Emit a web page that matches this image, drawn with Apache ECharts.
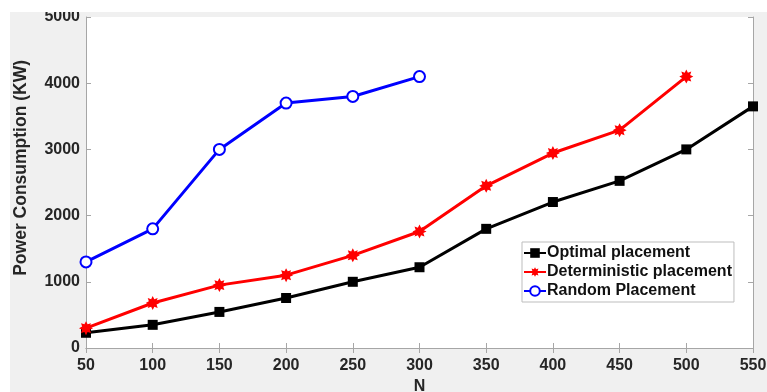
<!DOCTYPE html>
<html>
<head>
<meta charset="utf-8">
<script src="https://cdn.jsdelivr.net/npm/echarts@6/dist/echarts.min.js"></script>
<style>
  html, body { margin: 0; padding: 0; background: #fff; }
  #wrap { position: absolute; left: 10px; top: 12px; width: 757px; height: 380px; background: #f0f0f0; }
  #chart { width: 757px; height: 380px; }
</style>
</head>
<body>
<div id="wrap"><div id="chart"></div></div>
<script>
var nValues = [50, 100, 150, 200, 250, 300, 350, 400, 450, 500, 550];
var optimal = [230, 350, 545, 755, 1000, 1220, 1800, 2205, 2525, 3000, 3650];
var deterministic = [300, 680, 950, 1100, 1400, 1760, 2450, 2945, 3290, 4100];
var randomPl = [1300, 1800, 3000, 3700, 3800, 4100];
var seriesNames = ['Optimal placement', 'Deterministic placement', 'Random Placement'];
var yTitle = 'Power Consumption (KW)';

function pairs(vals) {
  return vals.map(function (v, i) { return [nValues[i], v]; });
}

// 8-point star used for the red markers
var starPath = 'path://M0,-10 L2.3,-5.5 L7.1,-7.1 L5.5,-2.3 L10,0 L5.5,2.3 L7.1,7.1 L2.3,5.5 L0,10 L-2.3,5.5 L-7.1,7.1 L-5.5,2.3 L-10,0 L-5.5,-2.3 L-7.1,-7.1 L-2.3,-5.5 Z';

var chart = echarts.init(document.getElementById('chart'));
var fontFam = 'Liberation Sans, Arial';
var labelFont = { fontFamily: fontFam, fontWeight: 'bold', fontSize: 16, color: '#262626' };
var axisCol = '#a6a6a6';

var option = {
  animation: false,
  grid: {
    left: 76, right: 14, top: 5, bottom: 44,
    outerBoundsMode: 'none',
    show: true, backgroundColor: '#fff', borderWidth: 0
  },
  graphic: [{
    type: 'text', left: 2, top: 48, rotation: Math.PI / 2,
    style: { text: yTitle, fontFamily: fontFam, fontWeight: 'bold', fontSize: 17.5, fill: '#262626' }
  }],
  legend: {
    left: 512, top: 230,
    orient: 'vertical',
    backgroundColor: '#fff',
    borderColor: '#bdbdbd',
    borderWidth: 1,
    padding: [3, 2, 3, 1],
    itemGap: 3,
    itemWidth: 22,
    itemHeight: 12,
    textStyle: { fontFamily: fontFam, fontWeight: 'bold', fontSize: 16, color: '#111', padding: [0, 0, 0, -4] },
    data: seriesNames
  },
  xAxis: [
    {
      type: 'value', min: 50, max: 550, interval: 50,
      name: 'N', nameLocation: 'middle', nameGap: 30,
      nameTextStyle: { fontFamily: fontFam, fontWeight: 'bold', fontSize: 16, color: '#262626' },
      axisLine: { lineStyle: { color: axisCol } },
      axisTick: { inside: true, length: 5, lineStyle: { color: axisCol } },
      axisLabel: Object.assign({ margin: 10 }, labelFont),
      splitLine: { show: false }
    },
    {
      type: 'value', min: 50, max: 550, interval: 50, position: 'top',
      axisLine: { show: true, lineStyle: { color: axisCol } },
      axisTick: { inside: true, length: 5, lineStyle: { color: axisCol } },
      axisLabel: { show: false },
      splitLine: { show: false }
    }
  ],
  yAxis: [
    {
      type: 'value', min: 0, max: 5000, interval: 1000,
      axisLine: { show: true, lineStyle: { color: axisCol } },
      axisTick: { show: true, inside: true, length: 5, lineStyle: { color: axisCol } },
      axisLabel: Object.assign({ margin: 6, padding: [4, 0, 0, 0], formatter: function (v) { return String(v); } }, labelFont),
      splitLine: { show: false }
    },
    {
      type: 'value', min: 0, max: 5000, interval: 1000, position: 'right',
      axisLine: { show: true, lineStyle: { color: axisCol } },
      axisTick: { show: true, inside: true, length: 5, lineStyle: { color: axisCol } },
      axisLabel: { show: false },
      splitLine: { show: false }
    }
  ],
  series: [
    {
      name: seriesNames[0], type: 'line', data: pairs(optimal),
      symbol: 'rect', symbolSize: 10,
      lineStyle: { color: '#000', width: 3 },
      itemStyle: { color: '#000' }
    },
    {
      name: seriesNames[1], type: 'line', data: pairs(deterministic),
      symbol: starPath, symbolSize: 14,
      lineStyle: { color: '#ff0000', width: 3 },
      itemStyle: { color: '#ff0000' }
    },
    {
      name: seriesNames[2], type: 'line', data: pairs(randomPl),
      symbol: 'emptyCircle', symbolSize: 11,
      lineStyle: { color: '#0000ff', width: 3 },
      itemStyle: { color: '#0000ff', borderColor: '#0000ff', borderWidth: 2.5 }
    }
  ]
};
chart.setOption(option);
</script>
</body>
</html>
